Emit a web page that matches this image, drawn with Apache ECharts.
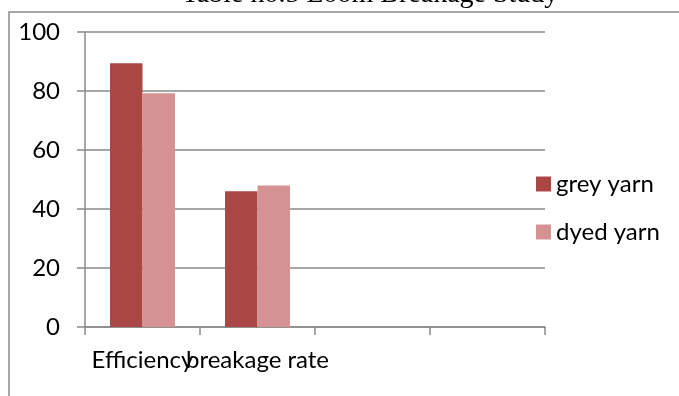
<!DOCTYPE html>
<html>
<head>
<meta charset="utf-8">
<style>
  html, body { margin: 0; padding: 0; background: #ffffff; overflow: hidden; }
  #chart { width: 679px; height: 396px; }
</style>
<script src="https://cdn.jsdelivr.net/npm/echarts@6/dist/echarts.min.js"></script>
</head>
<body>
<div id="chart"></div>
<script>
// Loom breakage study: efficiency and breakage rate for grey and dyed yarn
const categories = ['Efficiency', 'breakage rate', '', ''];
const greyYarn = [89.4, 46, null, null];
const dyedYarn = [79.2, 48, null, null];
const yTicks = { min: 0, max: 100, step: 20 };

const axisGrey = '#8a8a8a';
const labelFont = 'Lato, "Liberation Sans", sans-serif';

const chart = echarts.init(document.getElementById('chart'), null, { renderer: 'canvas' });

chart.setOption({
  animation: false,
  backgroundColor: '#ffffff',
  graphic: [
    {
      // chart frame: left and top edges (the rest runs off the page)
      type: 'polyline',
      shape: { points: [[9, 400], [9, 12], [679, 12]] },
      style: { fill: 'none', stroke: axisGrey, lineWidth: 1.5 },
      z: 0
    },
    {
      type: 'text',
      x: 370,
      y: 8.5,
      style: {
        text: 'Table no.5 Loom Breakage Study',
        font: '28px "Liberation Serif", "Times New Roman", serif',
        fill: '#000000',
        align: 'center',
        verticalAlign: 'bottom'
      },
      z: 10
    }
  ],
  legend: {
    orient: 'vertical',
    left: 536,
    top: 172,
    padding: 0,
    itemWidth: 15,
    itemHeight: 15,
    itemGap: 24,
    icon: 'rect',
    textStyle: { fontFamily: labelFont, fontSize: 24, color: '#000000', lineHeight: 24 },
    data: ['grey yarn', 'dyed yarn']
  },
  grid: { left: 85, right: 134, top: 32, bottom: 69, containLabel: false },
  xAxis: {
    type: 'category',
    data: categories,
    boundaryGap: true,
    axisLine: { show: true, lineStyle: { color: axisGrey, width: 1.5 } },
    axisTick: { show: true, length: 8, alignWithLabel: false, lineStyle: { color: axisGrey, width: 1.5 } },
    axisLabel: {
      interval: 0,
      margin: 21,
      fontFamily: labelFont,
      fontSize: 24,
      color: '#000000'
    },
    splitLine: { show: false }
  },
  yAxis: {
    type: 'value',
    min: yTicks.min,
    max: yTicks.max,
    interval: yTicks.step,
    axisLine: { show: true, lineStyle: { color: axisGrey, width: 1.5 } },
    axisTick: { show: true, length: 8, lineStyle: { color: axisGrey, width: 1.5 } },
    axisLabel: {
      margin: 25,
      fontFamily: labelFont,
      fontSize: 24,
      color: '#000000'
    },
    splitLine: { show: true, lineStyle: { color: axisGrey, width: 1.5 } }
  },
  series: [
    {
      name: 'grey yarn',
      type: 'bar',
      data: greyYarn,
      barGap: '0%',
      barCategoryGap: '43.5%',
      itemStyle: { color: '#A94745' }
    },
    {
      name: 'dyed yarn',
      type: 'bar',
      data: dyedYarn,
      barGap: '0%',
      barCategoryGap: '43.5%',
      itemStyle: { color: '#D49392' }
    }
  ]
});
</script>
</body>
</html>
